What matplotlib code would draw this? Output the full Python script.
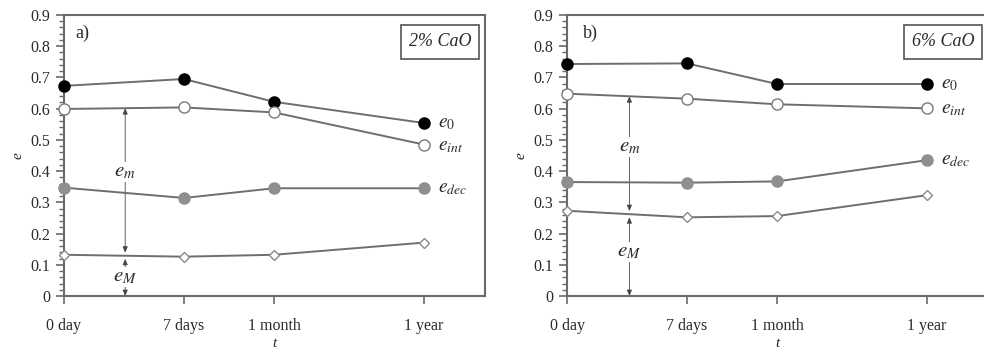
import numpy as np
import matplotlib
matplotlib.use("Agg")
import matplotlib.pyplot as plt
from matplotlib.ticker import MultipleLocator, FuncFormatter

plt.rcParams['font.family'] = ['Liberation Serif', 'DejaVu Serif']
plt.rcParams['mathtext.fontset'] = 'stix'

categories = ["0 day", "7 days", "1 month", "1 year"]
x_pos = [0.0, 1.0, 1.75, 3.0]

# panel a) 2% CaO
a_e0 = [0.673, 0.695, 0.622, 0.554]
a_eint = [0.599, 0.604, 0.588, 0.485]
a_edec = [0.347, 0.314, 0.345, 0.345]
a_eM = [0.132, 0.126, 0.132, 0.171]

# panel b) 6% CaO
b_e0 = [0.743, 0.745, 0.679, 0.679]
b_eint = [0.648, 0.632, 0.614, 0.601]
b_edec = [0.365, 0.363, 0.367, 0.435]
b_eM = [0.273, 0.252, 0.256, 0.323]

panels = [
    ("a)", "2% CaO", a_e0, a_eint, a_edec, a_eM, 0.51, 0.398, 0.062, 0.026),
    ("b)", "6% CaO", b_e0, b_eint, b_edec, b_eM, 0.52, 0.478, 0.142, 0.038),
]

fig = plt.figure(figsize=(9.84, 3.5), dpi=100)
positions = [[64/984, 54/350, 421/984, 281/350], [567/984, 54/350, 421/984, 281/350]]

spine_c = '#6a6a6a'
line_c = '#6e6e6e'
txt_c = '#2a2a2a'
for pos, (tag, box, e0, eint, edec, eM, xa, ym, yM, tagx) in zip(positions, panels):
    ax = fig.add_axes(pos)
    ax.set_xlim(0, 421/120)
    ax.set_ylim(0, 0.9)
    for s in ax.spines.values():
        s.set_color(spine_c)
        s.set_linewidth(1.5)
    ax.plot(x_pos, e0, '-', color=line_c, lw=1.4, marker='o', ms=8,
            mfc='black', mec='black', zorder=3, clip_on=False)
    ax.plot(x_pos, eint, '-', color=line_c, lw=1.4, marker='o', ms=8,
            mfc='white', mec='#7a7a7a', mew=1.0, zorder=3, clip_on=False)
    ax.plot(x_pos, edec, '-', color=line_c, lw=1.4, marker='o', ms=8,
            mfc='#8f8f8f', mec='#8f8f8f', zorder=3, clip_on=False)
    ax.plot(x_pos, eM, '-', color=line_c, lw=1.4, marker='D', ms=5.5,
            mfc='white', mec='#8a8a8a', mew=1.0, zorder=3, clip_on=False)

    for vals, lab, dy in [(e0, r'$e_0$', 0), (eint, r'$e_{int}$', -0.005), (edec, r'$e_{dec}$', 0)]:
        ax.annotate(lab, (x_pos[-1], vals[-1] + dy), xytext=(10, 0), textcoords='offset points',
                    fontsize=14, va='center', ha='left', color=txt_c)

    top = np.interp(xa, x_pos, eint)
    mid = np.interp(xa, x_pos, eM)
    arrow_kw = dict(arrowstyle='<|-|>,head_length=0.35,head_width=0.15', color='#444444', lw=0.6,
                    shrinkA=0, shrinkB=0)
    ax.annotate('', xy=(xa, top), xytext=(xa, mid + 0.01), arrowprops=arrow_kw, zorder=2)
    ax.annotate('', xy=(xa, mid - 0.01), xytext=(xa, 0.0), arrowprops=arrow_kw, zorder=2)
    ax.text(xa, ym, r'$e_m$', fontsize=15, ha='center', va='center', color=txt_c,
            bbox=dict(facecolor='white', edgecolor='none', pad=0.5), zorder=2.5)
    ax.text(xa, yM, r'$e_M$', fontsize=15, ha='center', va='center', color=txt_c,
            bbox=dict(facecolor='white', edgecolor='none', pad=0.5), zorder=2.5)

    ax.text(tagx, 0.936, tag, transform=ax.transAxes,
            fontsize=13, ha='left', va='center', color=txt_c)
    ax.text((440 - 64) / 421, 0.904, box, transform=ax.transAxes,
            fontsize=13, style='italic', ha='center', va='center', color=txt_c,
            bbox=dict(facecolor='white', edgecolor='#555555', lw=1.2, boxstyle='square,pad=0.45'))

    ax.set_xticks(x_pos)
    ax.set_xticklabels(categories)
    ax.yaxis.set_major_locator(MultipleLocator(0.1))
    ax.yaxis.set_minor_locator(MultipleLocator(0.02))
    ax.yaxis.set_major_formatter(FuncFormatter(lambda v, p: '0' if abs(v) < 1e-9 else f'{v:.1f}'))
    ax.tick_params(axis='both', which='major', direction='out', length=6, width=1.2,
                   colors=spine_c, labelcolor=txt_c, labelsize=11.5, pad=4)
    ax.tick_params(axis='x', pad=10)
    ax.tick_params(axis='y', which='minor', direction='out', length=3.5, width=1.0, colors=spine_c)
    ax.set_xlabel('t', style='italic', fontsize=11, color=txt_c, labelpad=2)
    ax.set_ylabel('e', style='italic', fontsize=11, color=txt_c, labelpad=4)

fig.savefig('out.png', dpi=100)
